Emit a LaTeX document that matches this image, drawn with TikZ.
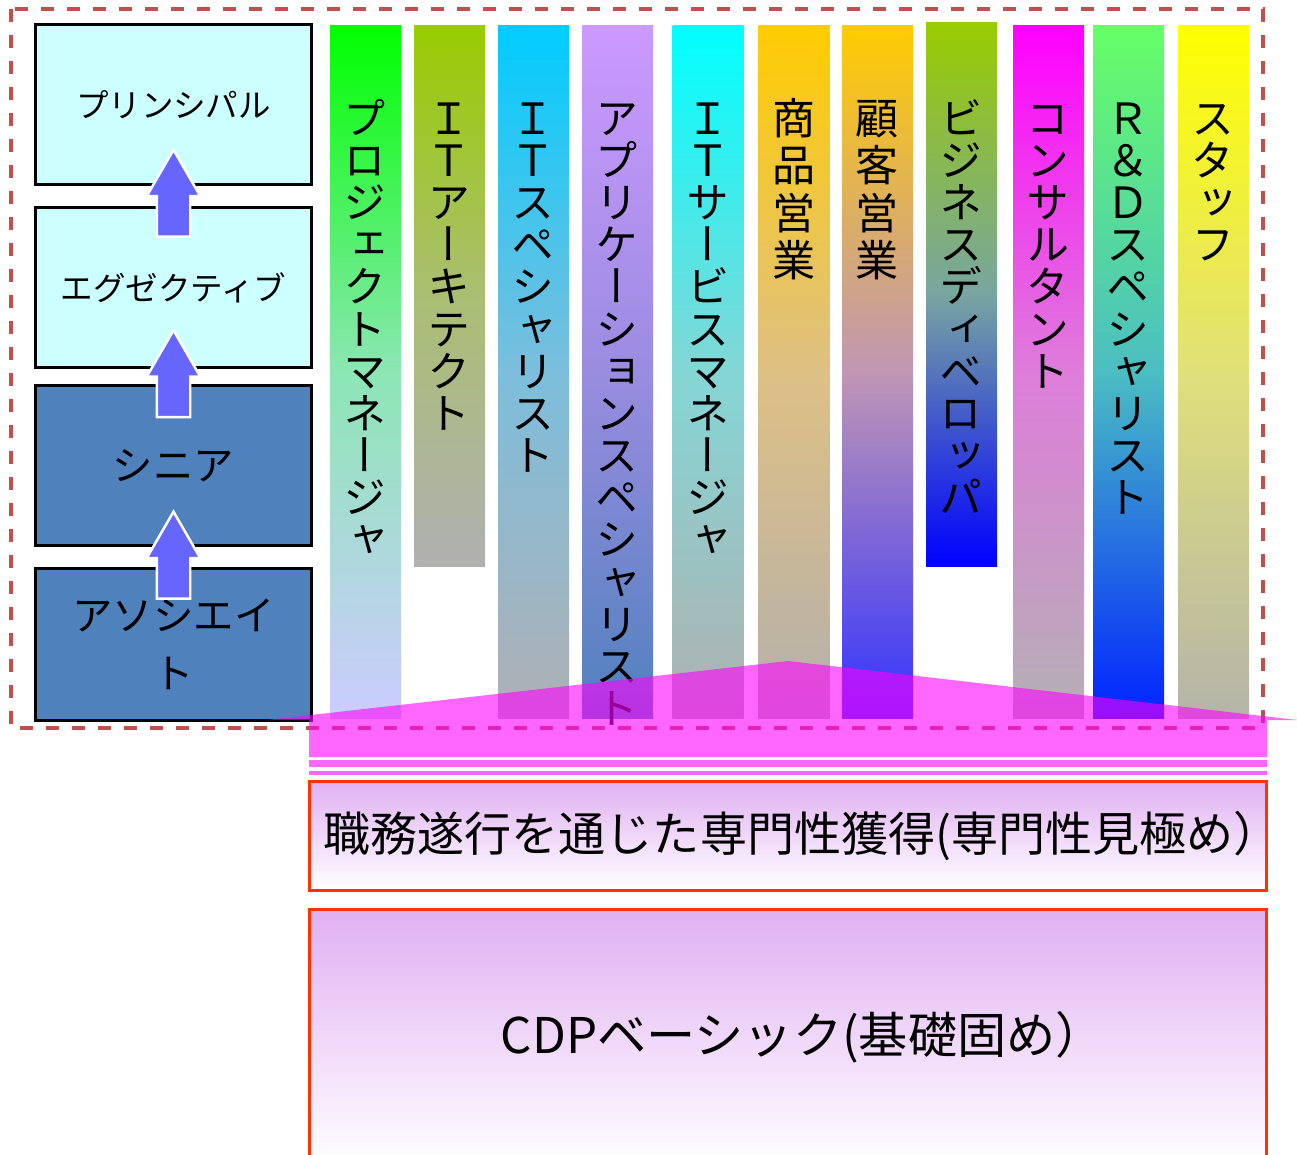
\documentclass[tikz,border=0pt]{standalone}
\usepackage{fontspec}
\usetikzlibrary{positioning,shapes.arrows,calc}
\newfontfamily\jpfont{Noto Sans CJK JP}
\newfontfamily\jpvert[RawFeature=+vert]{Noto Sans CJK JP}

\definecolor{rankpale}{HTML}{CCFFFF}
\definecolor{rankblue}{HTML}{4F81BD}
\definecolor{steparrow}{HTML}{6666FF}
\definecolor{frameline}{HTML}{C0504D}
\definecolor{phaseline}{HTML}{FF3300}
\definecolor{phasetop}{HTML}{E0B0F2}
\definecolor{overlaypink}{RGB}{255,0,255}
\definecolor{pmtop}{HTML}{00FF00}\definecolor{pmmid}{HTML}{8CE6B4}\definecolor{pmbot}{HTML}{CCCCFF}
\definecolor{iatop}{HTML}{99CC00}\definecolor{iamid}{HTML}{AABE73}\definecolor{iabot}{HTML}{B0B0B0}
\definecolor{istop}{HTML}{00CCFF}\definecolor{ismid}{HTML}{7CBEDC}\definecolor{isbot}{HTML}{B0B0B4}
\definecolor{aptop}{HTML}{CC99FF}\definecolor{apmid}{HTML}{9A8CE1}\definecolor{apbot}{HTML}{4F81BD}
\definecolor{smtop}{HTML}{00FFFF}\definecolor{smmid}{HTML}{84D6D6}\definecolor{smbot}{HTML}{B0B0B0}
\definecolor{pstop}{HTML}{FFCC00}\definecolor{psmid}{HTML}{DEC084}\definecolor{psbot}{HTML}{B4B0AC}
\definecolor{cstop}{HTML}{FFCC00}\definecolor{csmid}{HTML}{C096B4}\definecolor{csbot}{HTML}{3333FF}
\definecolor{bdtop}{HTML}{99CC00}\definecolor{bdmid}{HTML}{78A5A0}\definecolor{bdbot}{HTML}{0000FF}
\definecolor{cntop}{HTML}{FF00FF}\definecolor{cnmid}{HTML}{DE7DDA}\definecolor{cnbot}{HTML}{B4B0B4}
\definecolor{rdtop}{HTML}{66FF66}\definecolor{rdmid}{HTML}{4BBEC3}\definecolor{rdbot}{HTML}{0022FF}
\definecolor{sttop}{HTML}{FFFF00}\definecolor{stmid}{HTML}{E0E07A}\definecolor{stbot}{HTML}{B4B4AA}

\def\vtextstop{}
\newcommand\vtext[2]{\vbox{\baselineskip=#1\lineskiplimit=-\maxdimen\expandafter\vtextloop#2\vtextstop}}
\def\vtextloop#1{\ifx#1\vtextstop\else\hbox to 1em{\hss#1\hss\vrule height .88em depth .12em width 0pt}\expandafter\vtextloop\fi}

\tikzset{
  rankbox/.style={draw=black, line width=0.6mm, minimum width=55.4mm, minimum height=32mm, inner sep=0pt, align=center},
  uparrow/.style={single arrow, draw=white, fill=steparrow, line width=0.5mm, shape border rotate=90, anchor=tail,
    minimum height=17.4mm, minimum width=10.2mm, single arrow head extend=2mm, single arrow tip angle=60, inner sep=3.1mm},
  vlabel/.style={inner sep=0pt, anchor=north, font=\jpvert\fontsize{24.5pt}{24pt}\selectfont},
  phasebox/.style={draw=phaseline, line width=0.6mm, minimum width=191.6mm, inner sep=0pt,
    top color=phasetop, bottom color=white},
  overlay/.style={fill=overlaypink, opacity=0.6}
}

\begin{document}
\begin{tikzpicture}[x=0.02cm, y=-0.02cm]
    \useasboundingbox (0,0) rectangle (1297,1154);
    \draw[frameline, line width=0.8mm, dash pattern=on 2.6mm off 2.6mm] (11,9) rectangle (1263,728);

    \node[rankbox, fill=rankpale, font=\jpfont\fontsize{18.5pt}{22pt}\selectfont] (prin) at (173.5,104.5) {プリンシパル};
    \node[rankbox, fill=rankpale, font=\jpfont\fontsize{18.5pt}{22pt}\selectfont, below=4mm of prin] (exec) {エグゼクティブ};
    \node[rankbox, fill=rankblue, font=\jpfont\fontsize{23pt}{33pt}\selectfont, below=3mm of exec] (senior) {シニア};
    \node[rankbox, fill=rankblue, font=\jpfont\fontsize{23pt}{33pt}\selectfont, below=4mm of senior, minimum height=30.4mm] (assoc) {アソシエイ\\ト};

    \node[uparrow] (up1) at ($(prin.south)!0.5!(exec.north)+(0,42)$) {};
    \node[uparrow] (up2) at ($(exec.south)!0.5!(senior.north)+(0,42)$) {};
    \node[uparrow] (up3) at ($(senior.south)!0.5!(assoc.north)+(0,43)$) {};

    \foreach \nm/\xc/\ytop/\ybot/\gap/\lbl in {
        pm/365.5/25/718/24pt/プロジェクトマネージャ,
        ia/449.5/25/566/24pt/ＩＴアーキテクト,
        is/533.5/25/718/24pt/ＩＴスペシャリスト,
        ap/617.5/25/718/24pt/アプリケーションスペシャリスト,
        sm/708/25/718/24pt/ＩＴサービスマネージャ,
        ps/794/25/718/27pt/商品営業,
        cs/877.5/25/718/27pt/顧客営業,
        bd/961.5/22/566/24pt/ビジネスディベロッパ,
        cn/1048.5/25/718/24pt/コンサルタント,
        rd/1128.5/25/718/24pt/Ｒ＆Ｄスペシャリスト,
        st/1213.5/25/718/24pt/スタッフ}
    {
        \shade[top color=\nm top, bottom color=\nm bot, middle color=\nm mid] (\xc-35.5,\ytop) rectangle (\xc+35.5,\ybot);
        \node[vlabel] (\nm) at (\xc,96) {\vtext{\gap}{\lbl}};
    }

    \fill[overlay] (267,720) -- (788,661) -- (1297,720) -- (1267,720) -- (1267,757) -- (309,757) -- (309,720) -- cycle;
    \fill[overlay] (309,760) rectangle (1267,767);
    \fill[overlay] (309,771) rectangle (1267,775);

    \node[phasebox, minimum height=21.8mm, font=\jpfont\fontsize{26.8pt}{30pt}\selectfont] (practice) at (788,835.5)
        {職務遂行を通じた専門性獲得(専門性見極め）\kern-.6em};
    \node[phasebox, minimum height=51.4mm, below=3.2mm of practice, font=\jpfont\fontsize{28pt}{32pt}\selectfont] (basic)
        {CDPベーシック(基礎固め）\kern-.6em};
\end{tikzpicture}
\end{document}
